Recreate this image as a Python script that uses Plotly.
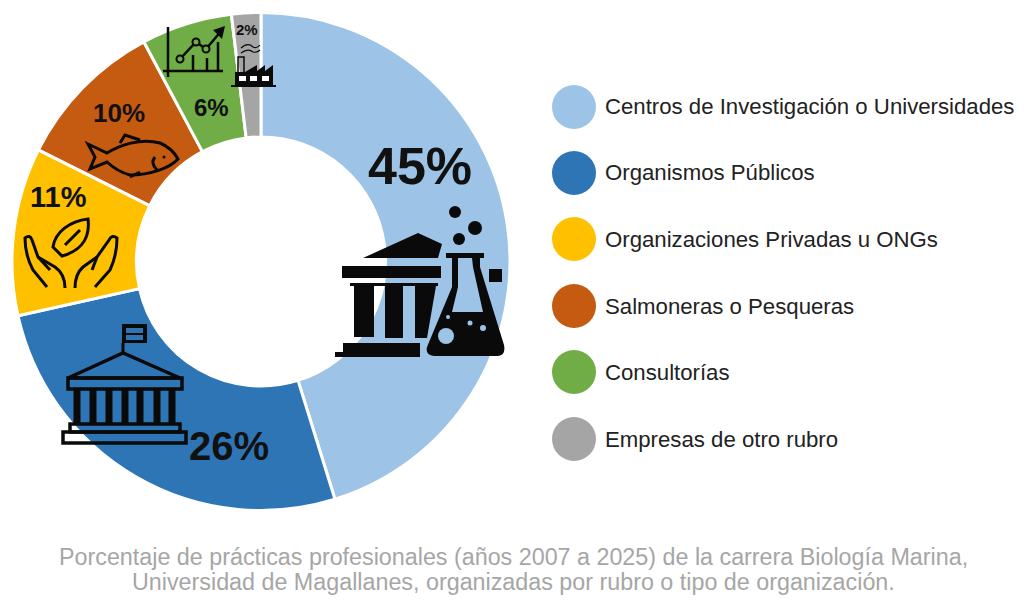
import re
import plotly.graph_objects as go

categorias = ['Centros de Investigación o Universidades', 'Organismos Públicos',
              'Organizaciones Privadas u ONGs', 'Salmoneras o Pesqueras',
              'Consultorías', 'Empresas de otro rubro']
valores = [45.2, 26.3, 10.9, 9.8, 5.9, 1.9]
etiquetas = ['45%', '26%', '11%', '10%', '6%', '2%']
colores = ['#9DC3E6', '#2E75B6', '#FFC000', '#C55A11', '#70AD47', '#A5A5A5']

# la pagina deja 8 px de margen, asi que la figura es un poco mas chica
W, H, M = 1016, 597, 8
NEGRO = '#0a0a0a'


def px(x):
    return (x - M) / W


def py(y):
    return 1 - (y - M) / H


def ruta(d):
    # path SVG escrito en pixeles de la imagen -> coordenadas paper
    tokens = re.findall(r'[A-Za-z]|-?[\d.]+', d)
    sal, es_x = [], True
    for t in tokens:
        if t.isalpha():
            sal.append(t)
            es_x = True
        else:
            sal.append(str(px(float(t)) if es_x else py(float(t))))
            es_x = not es_x
    return ' '.join(sal)


fig = go.Figure()

fig.add_trace(go.Pie(
    labels=categorias, values=valores, hole=0.5, sort=False,
    direction='clockwise', rotation=0,
    marker=dict(colors=colores, line=dict(color='white', width=3)),
    textinfo='none', showlegend=False,
    domain=dict(x=[px(12), px(510)], y=[py(511), py(12)])
))


def relleno(d, color=NEGRO):
    fig.add_shape(type='path', xref='paper', yref='paper', path=ruta(d),
                  fillcolor=color, line=dict(width=0))


def trazo(d, ancho=3, color=NEGRO):
    fig.add_shape(type='path', xref='paper', yref='paper', path=ruta(d),
                  line=dict(color=color, width=ancho))


def circulo(x, y, r, color=NEGRO, borde=0):
    fig.add_shape(type='circle', xref='paper', yref='paper',
                  x0=px(x - r), x1=px(x + r), y0=py(y + r), y1=py(y - r),
                  fillcolor=color, line=dict(color=NEGRO, width=borde))


def rect(x0, y0, x1, y1, color=NEGRO):
    relleno('M %s %s L %s %s L %s %s L %s %s Z' % (x0, y0, x1, y0, x1, y1, x0, y1), color)


# ---- icono templo + matraz
relleno('M 363 258 L 418 233 L 442 244 L 438 258 Z')
rect(342, 266, 441, 278)
rect(350, 283, 438, 286)
rect(354, 286, 374, 337)
rect(385, 286, 403, 338)
relleno('M 415 286 L 436 286 L 427 338 L 415 338 Z')
rect(343, 343, 420, 352)
rect(335, 352, 420, 357)
relleno('M 446 253 L 484 253 L 484 258 L 480 258 L 480 267 L 504 345 Q 506 355 498 356 '
        'L 434 356 Q 425 355 427 347 L 452 287 L 452 258 L 446 258 Z')
relleno('M 458 258 L 472 258 L 473 267 L 483 312 L 452 312 L 458 287 Z', colores[0])
circulo(446, 336, 8, colores[0])
circulo(470, 323, 2.5, colores[0])
circulo(483, 328, 3, colores[0])
circulo(448, 317, 2, colores[0])
circulo(455, 212, 6)
circulo(475, 228, 7)
circulo(459, 239, 6)
rect(489, 269, 502, 282)

# ---- icono edificio publico
rect(122, 324, 147, 343)
rect(126, 328, 143, 333, colores[1])
rect(126, 335, 143, 340, colores[1])
trazo('M 123 343 L 123 355')
trazo('M 68 378 L 123 353 L 180 378 Z', 3.5)
trazo('M 68 378 L 182 378 L 182 389 L 68 389 Z', 3.5)
for xc in [77, 93, 109, 125, 140, 157, 172]:
    rect(xc - 3.5, 389, xc + 3.5, 425)
trazo('M 70 424 L 180 424 L 180 432 L 70 432 Z', 3.5)
trazo('M 63 432 L 186 432 L 186 443 L 63 443 Z', 3.5)

# ---- icono manos y hoja
trazo('M 53 247 C 55 232 70 221 88 219 C 90 235 84 250 62 256 Z')
trazo('M 80 230 L 65 245')
trazo('M 47 287 L 33 270 Q 25 255 25 238 Q 30 234 32 240 L 38 257 L 55 267 Q 65 274 65 288')
trazo('M 38 257 L 50 270')
trazo('M 95 287 L 110 270 Q 117 255 117 238 Q 112 234 109 240 L 97 257 L 83 267 Q 75 274 75 288')
trazo('M 97 257 L 92 270')

# ---- icono pez
trazo('M 88 144 L 107 153 C 120 145 140 138 160 143 Q 172 148 178 159 '
      'C 170 168 150 175 130 175 Q 118 172 107 162 L 90 169 L 95 157 Z')
trazo('M 120 143 L 125 135 L 140 140')
trazo('M 130 177 L 140 172')
trazo('M 155 157 Q 150 163 157 170')
circulo(164, 157, 1.5)

# ---- icono grafico
trazo('M 168 27 L 168 77', 2.5)
trazo('M 163 71 L 223 71', 2.5)
for xb, yb in [(193, 55), (207, 58), (218, 42)]:
    trazo('M %s %s L %s 71' % (xb, yb, xb), 2.5)
trazo('M 180 59 L 196 42 L 206 49 L 222 30', 2.5)
relleno('M 225 26 L 213 30 L 222 39 Z')
for xc, yc in [(180, 59), (196, 42), (206, 49)]:
    circulo(xc, yc, 3.5, colores[4], 2)

# ---- icono fabrica
trazo('M 241 48 Q 248 42 253 47 Q 257 49 260 45', 1.2)
trazo('M 241 53 Q 248 48 253 52 Q 257 53 260 50', 1.2)
trazo('M 238 72 L 238 57 L 244 57 L 244 72', 1.5)
relleno('M 235 85 L 235 72 L 245 72 L 257 65 L 257 71 L 265 65 L 265 71 L 273 65 L 273 85 Z')
rect(231, 85, 276, 87)
for xv in [239, 250, 262]:
    rect(xv, 76, xv + 7, 81, 'white')

# etiquetas de porcentaje
pos_etq = [(420, 166), (229, 446), (58, 197), (119, 113), (211, 108), (247, 29)]
tam_etq = [52, 40, 29, 26, 24, 15]
for txt, (x, y), size in zip(etiquetas, pos_etq, tam_etq):
    fig.add_annotation(x=px(x), y=py(y), xref='paper', yref='paper', text='<b>%s</b>' % txt,
                       showarrow=False, xanchor='center', yanchor='middle',
                       font=dict(family='Liberation Sans', size=size, color='#111111'))

# leyenda a mano
ley_y = [107, 173, 239, 306, 372, 439]
for cat, col, y in zip(categorias, colores, ley_y):
    fig.add_shape(type='circle', xref='paper', yref='paper',
                  x0=px(552), x1=px(596), y0=py(y + 22), y1=py(y - 22),
                  fillcolor=col, line=dict(width=0))
    fig.add_annotation(x=px(605), y=py(y), xref='paper', yref='paper', text=cat,
                       xanchor='left', yanchor='middle', showarrow=False, xshift=-2,
                       font=dict(family='Liberation Sans', size=22.2, color='#222222'))

nota = ['Porcentaje de prácticas profesionales (años 2007 a 2025) de la carrera Biología Marina,',
        'Universidad de Magallanes, organizadas por rubro o tipo de organización.']
for linea, y in zip(nota, [557, 582]):
    fig.add_annotation(x=px(513), y=py(y), xref='paper', yref='paper', showarrow=False,
                       xanchor='center', yanchor='middle', text=linea,
                       font=dict(family='Liberation Sans', size=23.3, color='#a6a6a6'))

fig.update_layout(width=W, height=H, margin=dict(l=0, r=0, t=0, b=0),
                  paper_bgcolor='white', plot_bgcolor='white')

fig.write_html('out.html')
